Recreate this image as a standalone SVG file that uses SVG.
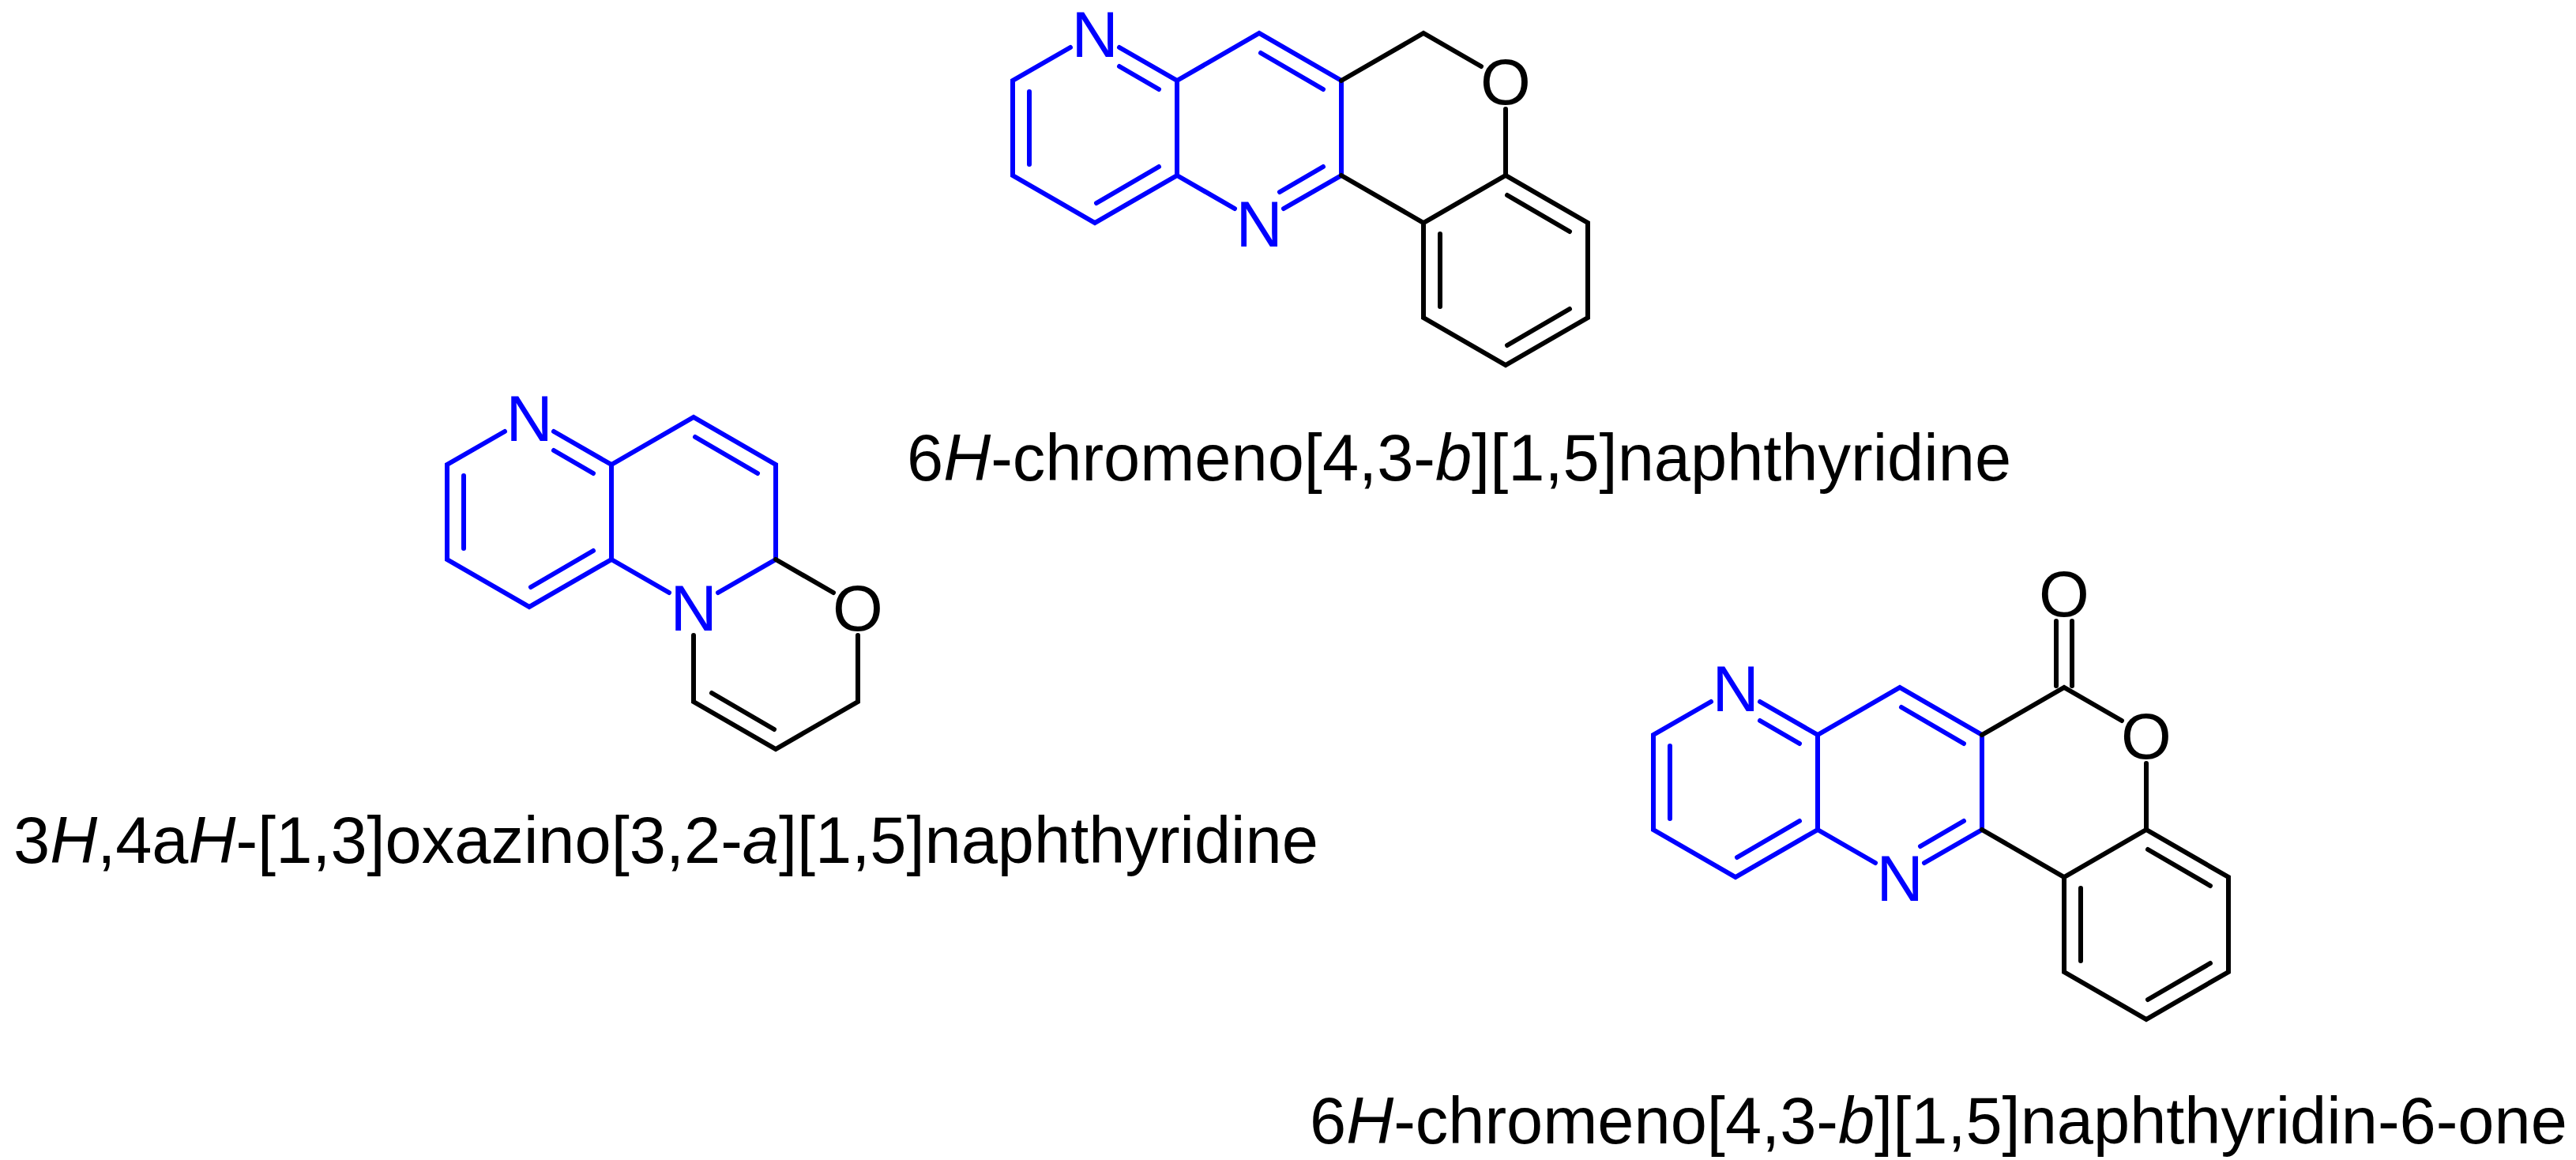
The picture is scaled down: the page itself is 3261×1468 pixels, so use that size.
<svg xmlns="http://www.w3.org/2000/svg" width="3261" height="1468" viewBox="0 0 3261 1468">
<style>
.b{stroke:#0000FF;stroke-width:6;fill:none;stroke-linecap:round}
.k{stroke:#000;stroke-width:6;fill:none;stroke-linecap:round}
.lb{font-family:"Liberation Sans",Arial,sans-serif;font-size:82px;text-anchor:middle;fill:#0000FF}
.lk{font-family:"Liberation Sans",Arial,sans-serif;font-size:82px;text-anchor:middle;fill:#000}
.nm{font-family:"Liberation Sans",Arial,sans-serif;font-size:83px;fill:#000}
</style>
<rect width="3261" height="1468" fill="#fff"/>
<defs>
<g id="chromeno">
<path class="b" d="M1355,60L1282,102L1282,222L1386,282L1490,222L1490,102L1417,60 M1303,116L1303,208 M1388,257L1467,211 M1417,84L1467,113 M1490,102L1594,42L1698,102L1698,222L1625,264 M1563,264L1490,222 M1596,67L1675,113 M1675,211L1620,243"/>
<path class="k" d="M1698,102L1802,42L1875,84 M1906,138L1906,222 M1698,222L1802,282L1906,222L2010,282L2010,402L1906,462L1802,402L1802,282 M1908,247L1987,293 M1987,391L1908,437 M1823,296L1823,388"/>
<text class="lb" x="1386" y="72">N</text>
<text class="lb" x="1594" y="312">N</text>
<text class="lk" x="1906" y="132">O</text>
</g>
</defs>
<g id="struct1">
<use href="#chromeno"/>
</g>
<g id="struct2">
<path class="b" d="M639,546L566,588L566,708L670,768L774,708L774,588L701,546 M587,602L587,694 M672,743L751,697 M701,570L751,599 M774,588L878,528L982,588L982,708L909,750 M847,750L774,708 M880,553L959,599"/>
<path class="k" d="M982,708L1055,750 M1086,804L1086,888L982,948L878,888L878,804 M980,923L901,877"/>
<text class="lb" x="670" y="558">N</text>
<text class="lb" x="878" y="798">N</text>
<text class="lk" x="1086" y="798">O</text>
</g>
<g id="struct3" transform="translate(811,828)">
<use href="#chromeno"/>
<path class="k" d="M1792,40L1792,-42 M1812,40L1812,-42"/>
<text class="lk" x="1802" y="-48">O</text>
</g>
<g id="names" class="nm">
<text x="1148" y="608">6<tspan font-style="italic">H</tspan>-chromeno[4,3-<tspan font-style="italic">b</tspan>][1,5]naphthyridine</text>
<text x="17" y="1092">3<tspan font-style="italic">H</tspan>,4a<tspan font-style="italic">H</tspan>-[1,3]oxazino[3,2-<tspan font-style="italic">a</tspan>][1,5]naphthyridine</text>
<text x="1658" y="1447">6<tspan font-style="italic">H</tspan>-chromeno[4,3-<tspan font-style="italic">b</tspan>][1,5]naphthyridin-6-one</text>
</g>
</svg>
